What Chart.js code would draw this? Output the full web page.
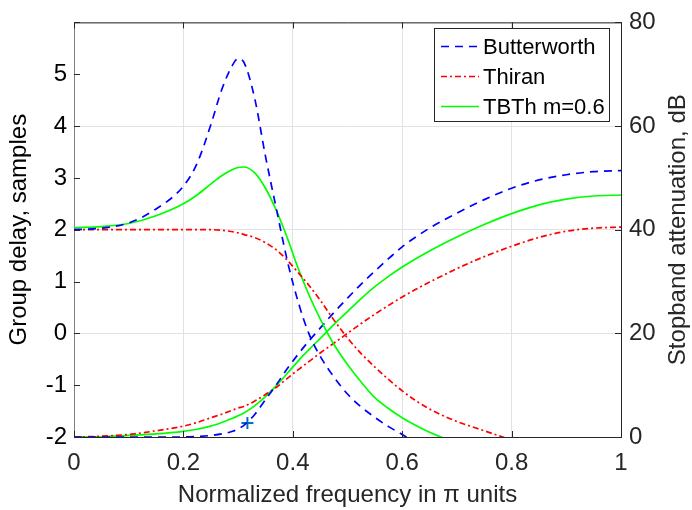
<!DOCTYPE html>
<html>
<head>
<meta charset="utf-8">
<script src="https://cdn.jsdelivr.net/npm/chart.js@4.4.1/dist/chart.umd.min.js"></script>
<style>
  html, body { margin: 0; padding: 0; background: #fff; }
  #wrap { width: 692px; height: 510px; position: relative; }
</style>
</head>
<body>
<div id="wrap"><canvas id="c"></canvas></div>
<script>
// frequency grid, in pi units
const freq = [0, 0.05, 0.1, 0.15, 0.2, 0.225, 0.25, 0.27, 0.29, 0.3, 0.31, 0.33, 0.35, 0.37, 0.39,
              0.41, 0.43, 0.45, 0.475, 0.5, 0.525, 0.55, 0.575, 0.6, 0.625, 0.65, 0.675, 0.7,
              0.75, 0.8, 0.85, 0.9, 0.95, 1];

// group delay, samples (left axis)
const bwDelay = [2.0, 2.03, 2.13, 2.40, 2.84, 3.28, 4.02, 4.70, 5.18, 5.30, 5.24, 4.55, 3.42, 2.40, 1.40,
                 0.60, -0.02, -0.44, -0.84, -1.17, -1.42, -1.62, -1.80, -1.95, -2.12, null, null, null,
                 null, null, null, null, null, null];
const thDelay = [2.0, 2.0, 2.0, 2.0, 2.0, 2.0, 2.0, 1.99, 1.96, 1.94, 1.91, 1.85, 1.75, 1.61, 1.41,
                 1.17, 0.92, 0.64, 0.26, -0.09, -0.39, -0.65, -0.89, -1.11, -1.30, -1.46, -1.59, -1.70,
                 -1.88, -2.06, null, null, null, null];
const tbDelay = [2.04, 2.06, 2.12, 2.27, 2.50, 2.67, 2.88, 3.04, 3.16, 3.20, 3.21, 3.10, 2.80, 2.37, 1.84,
                 1.25, 0.73, 0.28, -0.21, -0.60, -0.94, -1.24, -1.45, -1.63, -1.78, -1.91, -2.02, -2.12,
                 null, null, null, null, null, null];

// stopband attenuation, dB (right axis)
const bwAtt = [0, 0, 0, 0, 0, 0.1, 0.3, 0.6, 1.1, 1.6, 2.2, 4.3, 7.2, 10.1, 13.2,
               16.0, 18.6, 21.0, 24.0, 26.8, 29.5, 32.0, 34.4, 36.7, 38.6, 40.3, 41.8, 43.2,
               45.8, 48.0, 49.6, 50.6, 51.2, 51.4];
const thAtt = [0, 0.15, 0.5, 1.2, 2.1, 2.8, 3.7, 4.4, 5.2, 5.6, 5.9, 6.9, 8.2, 9.6, 11.3,
               13.0, 14.6, 16.2, 18.1, 20.0, 21.9, 23.7, 25.4, 27.0, 28.5, 29.9, 31.2, 32.5,
               34.8, 36.8, 38.5, 39.7, 40.3, 40.5];
const tbAtt = [0, 0.05, 0.3, 0.6, 1.1, 1.5, 2.1, 2.8, 3.6, 4.1, 4.6, 6.0, 7.8, 9.9, 12.3,
               14.7, 16.9, 19.0, 21.7, 24.2, 26.7, 29.0, 31.0, 32.8, 34.4, 35.9, 37.3, 38.6,
               41.0, 43.1, 44.8, 45.9, 46.5, 46.7];

// marked point on the Butterworth attenuation curve
const markerFreq = [0.317];
const markerAtt = [2.7];

const seriesNames = ["Butterworth", "Thiran", "TBTh m=0.6"];
const xTickLabels = ["0", "0.2", "0.4", "0.6", "0.8", "1"];
const leftTickLabels = ["-2", "-1", "0", "1", "2", "3", "4", "5"];
const rightTickLabels = ["0", "20", "40", "60", "80"];

const FONT = "'Liberation Sans', Arial, Helvetica, sans-serif";
const INK = "#262626";

function pts(ys){ return freq.map((f,i)=>({x:f, y:ys[i]})); }

const styles = [
  {color:"#0000ff", dash:[8,6]},
  {color:"#ff0000", dash:[6,3,2,3]},
  {color:"#00ff00", dash:[]}
];

function lineSet(label, ys, st, axis){
  return {
    label, data: pts(ys), yAxisID: axis,
    borderColor: st.color, borderDash: st.dash, borderWidth: 1.7,
    pointRadius: 0, fill: false, cubicInterpolationMode: "monotone", spanGaps: false
  };
}

const datasets = [
  lineSet(seriesNames[0], bwDelay, styles[0], "y"),
  lineSet(seriesNames[1], thDelay, styles[1], "y"),
  lineSet(seriesNames[2], tbDelay, styles[2], "y"),
  lineSet("", bwAtt, styles[0], "y2"),
  lineSet("", thAtt, styles[1], "y2"),
  lineSet("", tbAtt, styles[2], "y2"),
  {
    label: "", yAxisID: "y2", showLine: false,
    data: markerFreq.map((f,i)=>({x:f, y:markerAtt[i]})),
    pointStyle: "cross", pointRadius: 6, borderColor: "#0072bd", borderWidth: 2
  }
];

/* inward ticks, top border, right title and legend box */
const frame = {
  id: "frame",
  afterDatasetsDraw(chart){
    const {ctx, chartArea:a, scales:{x, y, y2}} = chart;
    ctx.save();
    ctx.strokeStyle = INK; ctx.lineWidth = 1;
    ctx.beginPath();
    ctx.moveTo(a.left, a.top + 0.5); ctx.lineTo(a.right, a.top + 0.5);
    x.ticks.forEach(t=>{
      const p = Math.round(x.getPixelForValue(t.value)) + 0.5;
      ctx.moveTo(p, a.bottom); ctx.lineTo(p, a.bottom - 6);
      ctx.moveTo(p, a.top); ctx.lineTo(p, a.top + 6);
    });
    y.ticks.forEach(t=>{
      const p = Math.round(y.getPixelForValue(t.value)) + 0.5;
      ctx.moveTo(a.left, p); ctx.lineTo(a.left + 6, p);
    });
    y2.ticks.forEach(t=>{
      const p = Math.round(y2.getPixelForValue(t.value)) + 0.5;
      ctx.moveTo(a.right, p); ctx.lineTo(a.right - 6, p);
    });
    ctx.stroke();

    // right axis title, reading bottom to top
    ctx.fillStyle = INK;
    ctx.font = "24px " + FONT;
    ctx.textAlign = "center"; ctx.textBaseline = "middle";
    ctx.translate(678, (a.top + a.bottom) / 2);
    ctx.rotate(-Math.PI / 2);
    ctx.fillText("Stopband attenuation, dB", 0, 0);
    ctx.restore();

    // legend
    ctx.save();
    const bx = 434.5, by = 28.5, bw = 175, bh = 93;
    ctx.fillStyle = "#fff";
    ctx.fillRect(bx, by, bw, bh);
    ctx.strokeStyle = INK; ctx.lineWidth = 1;
    ctx.strokeRect(bx, by, bw, bh);
    const rows = [46.5, 76.5, 106.5];
    ctx.font = "22px " + FONT;
    ctx.textAlign = "left"; ctx.textBaseline = "middle";
    seriesNames.forEach((name, i)=>{
      ctx.beginPath();
      ctx.strokeStyle = styles[i].color;
      ctx.lineWidth = 1.7;
      ctx.setLineDash(styles[i].dash);
      ctx.moveTo(441, rows[i]); ctx.lineTo(479, rows[i]);
      ctx.stroke();
      ctx.setLineDash([]);
      ctx.fillStyle = "#000";
      ctx.fillText(name, 483, rows[i] + 1);
    });
    ctx.restore();
  }
};

new Chart(document.getElementById("c"), {
  type: "line",
  data: { datasets },
  plugins: [frame],
  options: {
    responsive: true,
    maintainAspectRatio: false,
    animation: false,
    layout: { padding: { top: 16, left: 0, right: 0, bottom: 0 } },
    plugins: { legend: { display: false }, tooltip: { enabled: false } },
    scales: {
      x: {
        type: "linear", min: 0, max: 1,
        afterFit(s){ s.height = 73; },
        ticks: {
          stepSize: 0.2, padding: 12, color: INK,
          font: { family: FONT, size: 24 },
          callback: (v, i) => xTickLabels[i]
        },
        grid: { color: "#e2e2e2", drawTicks: false },
        border: { color: INK, width: 1 },
        title: {
          display: true, text: "Normalized frequency in \u03c0 units", color: INK,
          font: { family: FONT, size: 24 }, padding: { top: 0, bottom: 0 }
        }
      },
      y: {
        type: "linear", position: "left", min: -2, max: 6,
        afterFit(s){ s.width = 74; },
        ticks: {
          stepSize: 1, padding: 7, color: "#000",
          font: { family: FONT, size: 24 },
          callback: (v, i) => leftTickLabels[i] ?? ""
        },
        grid: { display: false, drawTicks: false },
        border: { color: "#808080", width: 1 },
        title: {
          display: true, text: "Group delay, samples", color: "#000",
          font: { family: FONT, size: 24 }, padding: { top: 5, bottom: 0 }
        }
      },
      y2: {
        type: "linear", position: "right", min: 0, max: 80,
        afterFit(s){ s.width = 71; },
        ticks: {
          stepSize: 20, padding: 8, color: INK,
          font: { family: FONT, size: 24 },
          callback: (v, i) => rightTickLabels[i]
        },
        grid: { color: "#e2e2e2", drawTicks: false },
        border: { color: INK, width: 1 }
      }
    }
  }
});
</script>
</body>
</html>
